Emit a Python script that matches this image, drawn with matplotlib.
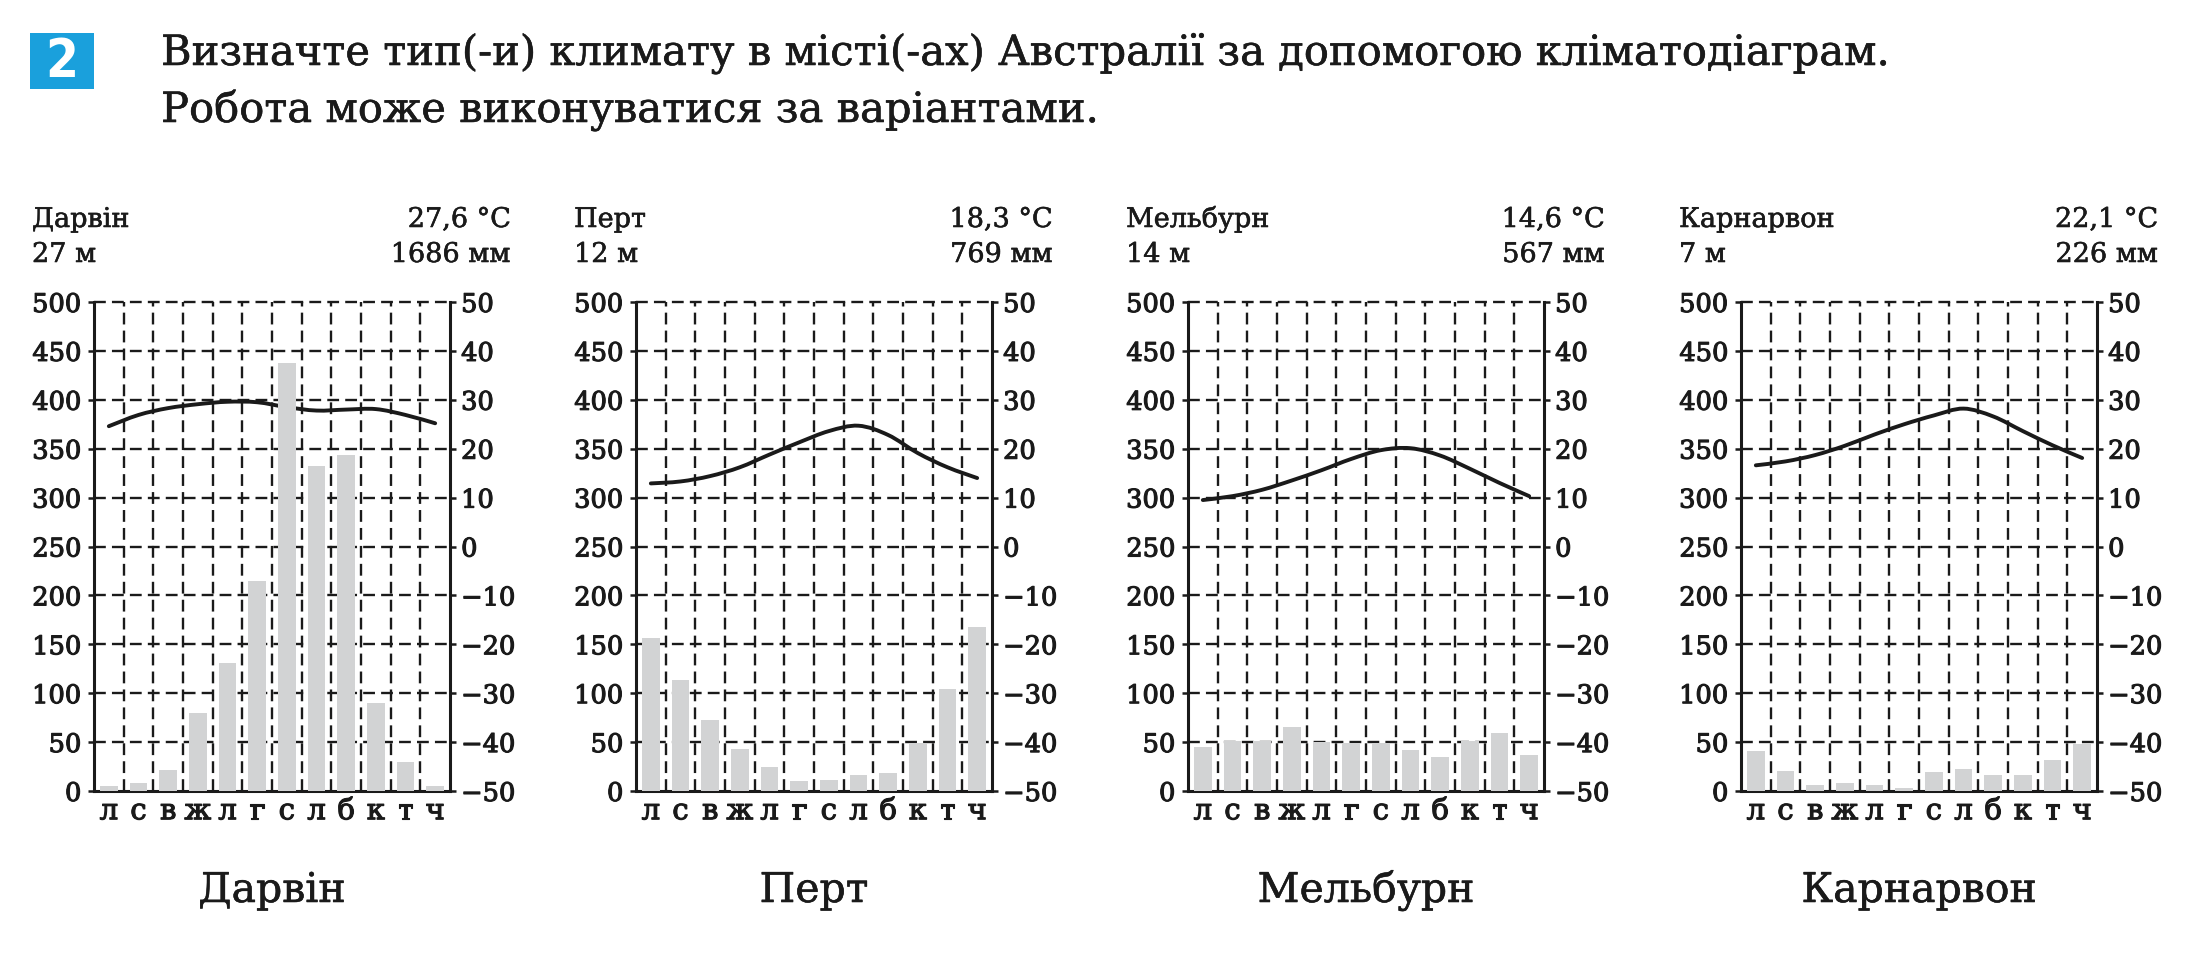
import numpy as np
import matplotlib
matplotlib.use("Agg")
import matplotlib.pyplot as plt
import matplotlib.patheffects as pe
from matplotlib.path import Path
from matplotlib.patches import PathPatch, Rectangle

# months from July to June (southern hemisphere layout)
months = ["л", "с", "в", "ж", "л", "г", "с", "л", "б", "к", "т", "ч"]

cities = ["Дарвін", "Перт", "Мельбурн", "Карнарвон"]
altitudes = ["27 м", "12 м", "14 м", "7 м"]
mean_temps = ["27,6 °C", "18,3 °C", "14,6 °C", "22,1 °C"]
annual_precip = ["1686 мм", "769 мм", "567 мм", "226 мм"]

darwin_precip = [5, 8, 21, 80, 131, 215, 438, 332, 344, 90, 30, 5]
darwin_temp = [24.6, 26.9, 28.3, 29.1, 29.6, 29.5, 28.5, 27.8, 28.0, 28.1, 26.9, 25.2]
perth_precip = [156, 114, 73, 43, 25, 10, 11, 16, 18, 49, 104, 168]
perth_temp = [12.9, 13.3, 14.4, 16.2, 18.8, 21.3, 23.6, 24.7, 22.8, 19.1, 16.2, 14.0]
melbourne_precip = [45, 51, 51, 65, 50, 49, 49, 42, 35, 51, 59, 37]
melbourne_temp = [9.5, 10.3, 11.6, 13.5, 15.6, 17.9, 19.7, 20.1, 18.6, 15.9, 13.0, 10.3]
carnarvon_precip = [41, 20, 6, 8, 6, 3, 19, 22, 16, 16, 32, 48]
carnarvon_temp = [16.6, 17.4, 18.7, 20.6, 22.9, 25.0, 26.8, 28.2, 26.6, 23.6, 20.7, 18.1]

precip = [darwin_precip, perth_precip, melbourne_precip, carnarvon_precip]
temps = [darwin_temp, perth_temp, melbourne_temp, carnarvon_temp]

title_1 = "Визначте тип(-и) климату в місті(-ах) Австралії за допомогою кліматодіаграм."
title_2 = "Робота може виконуватися за варіантами."

W, H = 2207, 966
INK = "#1a1a1a"
BAR = "#d2d3d4"

plt.rcParams["font.family"] = ["DejaVu Serif"]
plt.rcParams["text.color"] = INK
plt.rcParams["axes.edgecolor"] = INK
plt.rcParams["xtick.color"] = INK
plt.rcParams["ytick.color"] = INK


def fx(x):
    return x / W


def fy(y):
    return 1 - y / H


def smooth_path(xs, ys):
    # catmull-rom through the monthly points, as bezier segments
    pts = np.column_stack([xs, ys]).astype(float)
    n = len(pts)
    verts = [pts[0]]
    codes = [Path.MOVETO]
    for i in range(n - 1):
        p0 = pts[i - 1] if i > 0 else pts[i]
        p1, p2 = pts[i], pts[i + 1]
        p3 = pts[i + 2] if i + 2 < n else pts[i + 1]
        verts += [p1 + (p2 - p0) / 6, p2 - (p3 - p1) / 6, p2]
        codes += [Path.CURVE4] * 3
    return Path(verts, codes)


heavy = [pe.withStroke(linewidth=0.8, foreground=INK)]
light = [pe.withStroke(linewidth=0.4, foreground=INK)]

fig = plt.figure(figsize=(W / 100, H / 100), dpi=100)

# task number box and task text
fig.add_artist(Rectangle((fx(30), fy(89)), 64 / W, 56 / H,
                         transform=fig.transFigure, color="#1aa0dc", lw=0))
fig.text(fx(62), fy(62), "2", ha="center", va="center", color="white",
         fontsize=38, weight="bold", family="DejaVu Sans", stretch="condensed")
fig.text(fx(161), fy(65), title_1, ha="left", va="baseline", fontsize=30,
         path_effects=light)
fig.text(fx(161), fy(122), title_2, ha="left", va="baseline", fontsize=30,
         path_effects=light)

lefts = [94, 636, 1188, 1741]
width = 356
top, bottom = 302, 791
dash = (5.0, 2.6)

for k in range(4):
    l = lefts[k]
    r = l + width
    ax = fig.add_axes([fx(l), fy(bottom), width / W, (bottom - top) / H])
    axt = ax.twinx()
    ax.set_zorder(2)
    ax.patch.set_visible(False)
    axt.set_zorder(1)

    x = np.arange(12)
    ax.bar(x, precip[k], width=0.6, color=BAR, zorder=3)
    axt.add_patch(PathPatch(smooth_path(x, temps[k]), fill=False,
                            lw=2.8, edgecolor=INK, capstyle="round"))

    ax.set_xlim(-0.5, 11.5)
    ax.set_ylim(0, 500)
    ax.set_yticks(range(0, 501, 50))
    axt.set_ylim(-50, 50)
    axt.set_yticks(range(-50, 51, 10))

    ax.hlines(ax.get_yticks()[1:], -0.5, 11.5, colors=INK, lw=1.7,
              linestyles=[(0, dash)], zorder=1, clip_on=False)
    ax.vlines(np.arange(0.5, 11.5, 1), 0, 500, colors=INK, lw=1.7,
              linestyles=[(0, dash)], zorder=1, clip_on=False)

    ax.set_xticks(x, months)
    ax.tick_params(axis="x", length=0, pad=4.5, labelsize=21)
    ax.tick_params(axis="y", direction="out", length=4.5, width=1.8,
                   pad=4.5, labelsize=18.5)
    axt.tick_params(axis="y", direction="out", length=4.5, width=1.8,
                    pad=3.5, labelsize=18.5)
    for lab in ax.get_xticklabels() + ax.get_yticklabels() + axt.get_yticklabels():
        lab.set_path_effects(heavy)

    ax.spines["top"].set_visible(False)
    for s in ["left", "right", "bottom"]:
        ax.spines[s].set_linewidth(2.2)
    for s in axt.spines.values():
        s.set_visible(False)

    # station header and name below
    fig.text(fx(l - 62), fy(227), cities[k], ha="left", va="baseline",
             fontsize=19.5, path_effects=light)
    fig.text(fx(l - 62), fy(262), altitudes[k], ha="left", va="baseline",
             fontsize=19.5, path_effects=light)
    fig.text(fx(r + 61), fy(227), mean_temps[k], ha="right", va="baseline",
             fontsize=19.5, path_effects=light)
    fig.text(fx(r + 61), fy(262), annual_precip[k], ha="right", va="baseline",
             fontsize=19.5, path_effects=light)
    fig.text(fx((l + r) / 2), fy(902), cities[k], ha="center", va="baseline",
             fontsize=29.5, path_effects=light)

fig.savefig("out.png", dpi=100, facecolor="white")
